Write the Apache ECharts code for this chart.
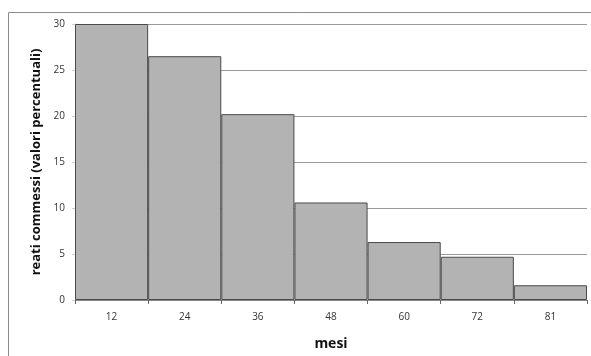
<!DOCTYPE html>
<html>
<head>
<meta charset="utf-8">
<style>
  html, body { margin: 0; padding: 0; background: #fff; }
  #chart { width: 591px; height: 356px; }
</style>
<script src="https://cdn.jsdelivr.net/npm/echarts@6/dist/echarts.min.js"></script>
</head>
<body>
<div id="chart"></div>
<script>
// Months since release and share of offences committed (percent)
const months = ['12', '24', '36', '48', '60', '72', '81'];
const offencesPct = [30, 26.5, 20.2, 10.6, 6.3, 4.7, 1.6];
const yTicks = { min: 0, max: 30, interval: 5 };

const chart = echarts.init(document.getElementById('chart'), null, { renderer: 'canvas' });

chart.setOption({
  animation: false,
  backgroundColor: '#ffffff',
  textStyle: { fontFamily: 'Open Sans, sans-serif' },
  graphic: [
    {
      // outer chart frame (top and left edges are visible)
      type: 'rect',
      shape: { x: 8.5, y: 12.5, width: 700, height: 500 },
      style: { fill: 'none', stroke: '#8c8c8c', lineWidth: 1 },
      silent: true,
      z: -10
    }
  ],
  grid: { left: 75, right: 4, top: 24, bottom: 55, containLabel: false },
  xAxis: {
    type: 'category',
    data: months,
    name: 'mesi',
    nameLocation: 'middle',
    nameGap: 37,
    nameTextStyle: { fontSize: 14, fontWeight: 'bold', color: '#111', fontFamily: 'Open Sans, sans-serif' },
    boundaryGap: true,
    axisLine: { show: true, lineStyle: { color: '#888', width: 1 } },
    axisTick: { show: true, alignWithLabel: false, length: 4, lineStyle: { color: '#666' } },
    axisLabel: { fontSize: 10, color: '#333', margin: 12 }
  },
  yAxis: {
    type: 'value',
    min: yTicks.min,
    max: yTicks.max,
    interval: yTicks.interval,
    name: 'reati commessi (valori percentuali)',
    nameLocation: 'middle',
    nameRotate: 90,
    nameGap: 32,
    nameTextStyle: { fontSize: 13, fontWeight: 'bold', color: '#111', fontFamily: 'Open Sans, sans-serif' },
    axisLine: { show: true, lineStyle: { color: '#d0d0d0', width: 1 } },
    axisTick: { show: true, length: 3, lineStyle: { color: '#d0d0d0' } },
    axisLabel: { fontSize: 10, color: '#333', margin: 10 },
    splitLine: { show: true, lineStyle: { color: '#9a9a9a', width: 1 } }
  },
  series: [
    {
      type: 'bar',
      data: offencesPct,
      barCategoryGap: '0%',
      itemStyle: { color: '#b3b3b3', borderColor: '#4a4a4a', borderWidth: 1 }
    }
  ]
});
</script>
</body>
</html>
